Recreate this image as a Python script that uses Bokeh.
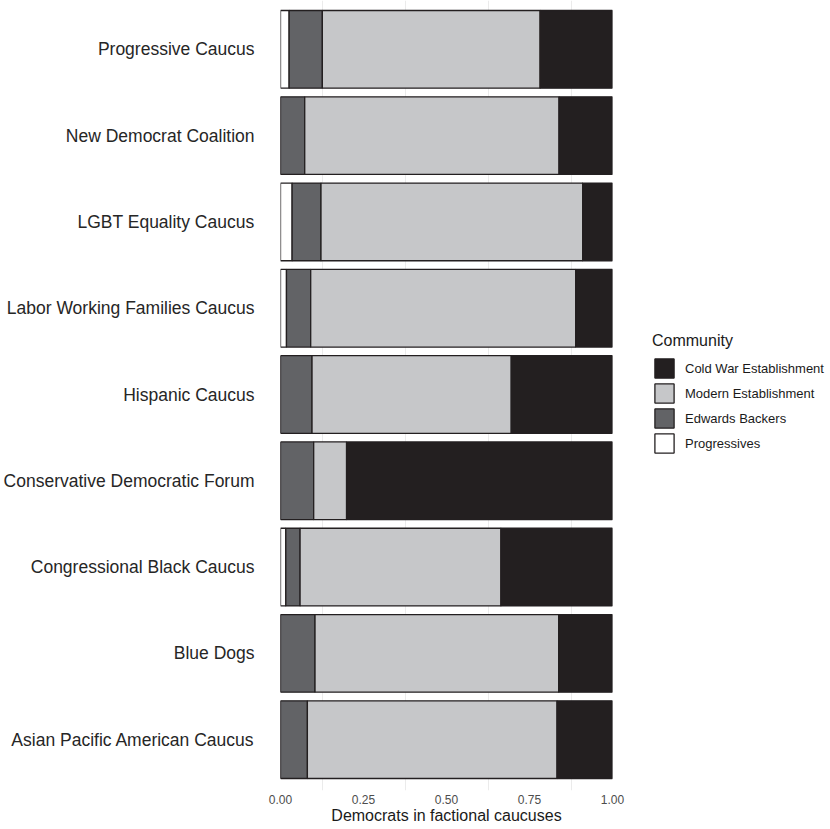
from bokeh.plotting import figure
from bokeh.models import (Range1d, FixedTicker, Legend, LegendItem,
                          ColumnDataSource, NumeralTickFormatter)
from bokeh.embed import file_html
from bokeh.resources import INLINE

# ---- data (top to bottom as displayed) ----
caucuses = ["Progressive Caucus", "New Democrat Coalition", "LGBT Equality Caucus",
            "Labor Working Families Caucus", "Hispanic Caucus",
            "Conservative Democratic Forum", "Congressional Black Caucus",
            "Blue Dogs", "Asian Pacific American Caucus"]
progressives = [0.026, 0.0, 0.035, 0.018, 0.0, 0.0, 0.016, 0.0, 0.0]
edwards_backers = [0.100, 0.073, 0.087, 0.073, 0.095, 0.100, 0.043, 0.104, 0.081]
modern_establishment = [0.656, 0.766, 0.788, 0.798, 0.600, 0.099, 0.605, 0.734, 0.752]
cold_war_establishment = [0.218, 0.161, 0.090, 0.111, 0.305, 0.801, 0.336, 0.162, 0.167]

communities = ["Progressives", "Edwards Backers", "Modern Establishment", "Cold War Establishment"]
community_colors = ["#ffffff", "#626366", "#c6c7c9", "#231f20"]
x_ticks = [0, 0.25, 0.5, 0.75, 1.0]
grid_ticks = [0.125, 0.375, 0.625, 0.875]

n = len(caucuses)
ypos = [n - 1 - i for i in range(n)]

src = ColumnDataSource(dict(
    y=ypos,
    **{"Progressives": progressives,
       "Edwards Backers": edwards_backers,
       "Modern Establishment": modern_establishment,
       "Cold War Establishment": cold_war_establishment}))

FONT = "Liberation Sans"

p = figure(frame_width=332, frame_height=790,
           x_range=Range1d(0, 1), y_range=Range1d(-0.589, 8.566),
           output_backend="svg", toolbar_location=None,
           min_border_left=280, min_border_right=218,
           min_border_top=0, min_border_bottom=38)
p.outline_line_color = None
p.background_fill_color = "white"
p.border_fill_color = "white"

renderers = p.hbar_stack(communities, y="y", height=0.9, source=src,
                         fill_color=community_colors, line_color="#231f20",
                         line_width=1.3)

# grid
p.xgrid.ticker = FixedTicker(ticks=grid_ticks)
p.xgrid.grid_line_color = "#ebebeb"
p.xgrid.grid_line_width = 1
p.ygrid.grid_line_color = None

# x axis
p.xaxis.ticker = FixedTicker(ticks=x_ticks)
p.xaxis.formatter = NumeralTickFormatter(format="0.00")
p.xaxis.axis_label = "Democrats in factional caucuses"
p.xaxis.axis_line_color = None
p.xaxis.major_tick_line_color = None
p.xaxis.minor_tick_line_color = None
p.xaxis.major_label_standoff = -2
p.xaxis.axis_label_standoff = 0
p.xaxis.major_label_text_font = FONT
p.xaxis.major_label_text_font_size = "12px"
p.xaxis.major_label_text_color = "#4d4d4d"
p.xaxis.axis_label_text_font = FONT
p.xaxis.axis_label_text_font_size = "16px"
p.xaxis.axis_label_text_font_style = "normal"
p.xaxis.axis_label_text_color = "#1a1a1a"

# y axis
p.yaxis.ticker = FixedTicker(ticks=ypos)
p.yaxis.major_label_overrides = {y: c for y, c in zip(ypos, caucuses)}
p.yaxis.axis_line_color = None
p.yaxis.major_tick_line_color = None
p.yaxis.minor_tick_line_color = None
p.yaxis.major_label_standoff = 20
p.yaxis.major_label_text_font = FONT
p.yaxis.major_label_text_font_size = "17.5px"
p.yaxis.major_label_text_color = "#262626"

# legend
items = [LegendItem(label=name, renderers=[r])
         for name, r in reversed(list(zip(communities, renderers)))]
legend = Legend(items=items, location=(40, 335),
                title="Community", title_text_font=FONT,
                title_text_font_size="16px", title_text_font_style="normal",
                title_text_color="#1a1a1a", title_standoff=6,
                label_text_font=FONT, label_text_font_size="13px",
                label_text_color="#1a1a1a",
                glyph_width=24, glyph_height=24, label_height=24,
                label_standoff=9, spacing=1, padding=0, margin=0,
                border_line_color=None, background_fill_alpha=0)
p.add_layout(legend, "right")

open("out.html", "w").write(file_html(p, INLINE))
